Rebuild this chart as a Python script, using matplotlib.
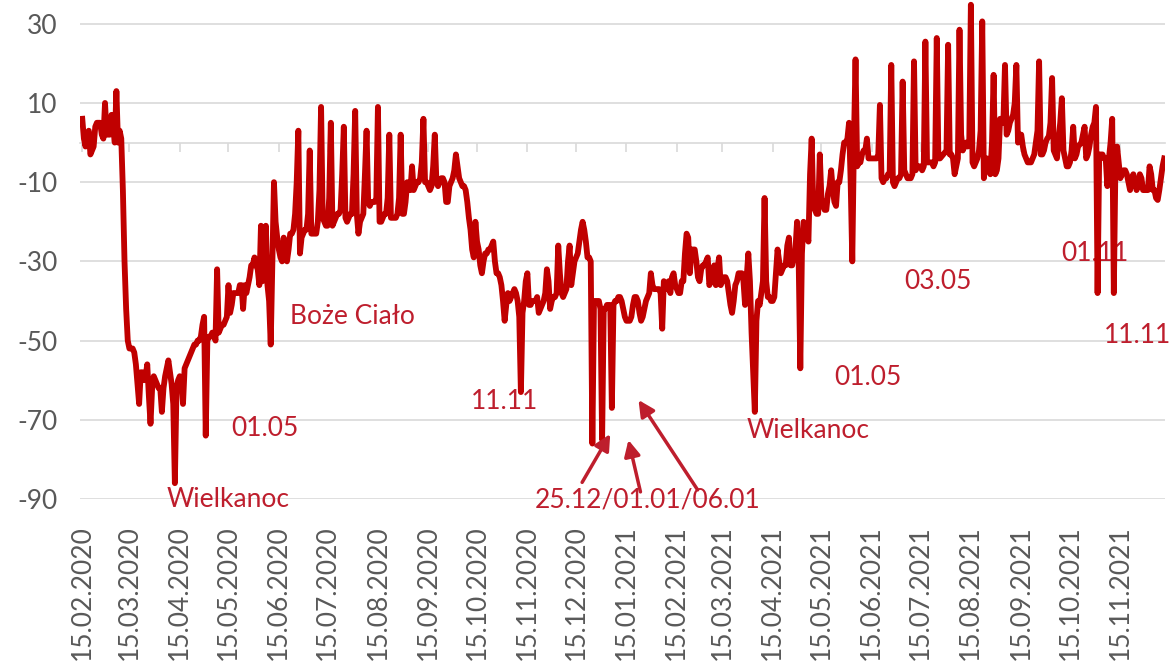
import numpy as np
import pandas as pd
import matplotlib
matplotlib.use('Agg')
import matplotlib.pyplot as plt

plt.rcParams['font.family'] = ['Lato', 'DejaVu Sans']
plt.rcParams['axes.unicode_minus'] = False

start = pd.Timestamp('2020-02-15')

# wartosci dzienne, tygodniami (sobota-piatek)
weeks_2020_spring = [
    [6, 1, -1, 2, 3, -3, -2], [-1, 4, 5, 5, 5, 2, 1], [10, 2, 2, 2, 7, 4, 0],
    [13, 0, 3, 1, -12, -30, -42], [-50, -52, -52, -52, -53, -56, -61],
    [-66, -58, -58, -60, -59, -56, -64], [-71, -62, -59, -60, -61, -62, -62],
    [-68, -62, -59, -57, -55, -58, -61], [-66, -86, -62, -60, -59, -60, -66],
    [-57, -56, -55, -54, -53, -52, -51], [-51, -50, -50, -49, -46, -44, -74],
    [-50, -49, -49, -48, -48, -50, -32], [-48, -47, -46, -46, -45, -44, -36],
    [-43, -41, -38, -38, -38, -38, -36], [-36, -42, -36, -38, -36, -34, -31],
    [-31, -29, -31, -32, -36, -21, -35],
]
weeks_2020_summer = [
    [-30, -21, -36, -40, -51, -30, -10], [-20, -24, -27, -29, -30, -24, -27],
    [-30, -27, -23, -23, -22, -18, -10], [3, -28, -24, -23, -22, -22, -18],
    [-2, -23, -23, -23, -23, -20, -12], [9, -19, -20, -21, -21, -14, 5],
    [-21, -20, -19, -18, -18, -17, -8], [4, -19, -20, -19, -18, -18, -8],
    [8, -18, -23, -20, -19, -18, -8], [3, -15, -16, -15, -15, -15, -14],
    [9, -20, -20, -19, -18, -18, -14], [2, -19, -19, -19, -19, -18, -14],
    [2, -18, -18, -15, -10, -12, -12], [-6, -12, -11, -10, -10, -9, -5],
    [6, -10, -10, -11, -12, -11, -6], [2, -10, -11, -10, -9, -9, -10],
    [-15, -15, -11, -10, -9, -7, -3], [-6, -9, -10, -11, -11, -12, -15],
]
weeks_2020_autumn = [
    [-19, -22, -27, -29, -20, -25, -27], [-31, -33, -30, -28, -28, -27, -27],
    [-26, -25, -30, -33, -33, -34, -36], [-40, -45, -41, -38, -40, -39, -38],
    [-37, -38, -40, -44, -63, -43, -40], [-35, -33, -41, -41, -40, -40, -40],
    [-39, -43, -42, -41, -40, -38, -32], [-35, -42, -40, -39, -39, -38, -26],
    [-33, -38, -39, -38, -37, -30, -26], [-36, -33, -30, -29, -28, -25, -22],
    [-20, -22, -25, -29, -29, -30, -76], [-40, -40, -40, -40, -42, -75, -42],
]
weeks_2021_spring = [
    [-42, -41, -41, -41, -67, -41, -40], [-40, -39, -39, -40, -42, -44, -45],
    [-45, -45, -44, -41, -39, -39, -40], [-43, -45, -44, -42, -40, -39, -38],
    [-33, -36, -37, -37, -37, -37, -38], [-47, -35, -37, -36, -35, -38, -34],
    [-33, -36, -37, -38, -38, -35, -35], [-28, -23, -24, -33, -27, -27, -27],
    [-30, -34, -35, -32, -31, -31, -30], [-29, -36, -35, -33, -31, -36, -32],
    [-29, -36, -35, -34, -34, -35, -38], [-41, -43, -40, -36, -35, -33, -33],
    [-33, -35, -41, -34, -28, -35, -48], [-58, -68, -45, -40, -41, -38, -35],
    [-14, -35, -39, -39, -40, -40, -39], [-33, -27, -30, -33, -32, -31, -31],
    [-26, -24, -31, -31, -29, -27, -20], [-30, -57, -28, -20, -21, -23, -25],
    [-8, 1, -16, -17, -18, -18, -3], [-14, -16, -17, -17, -13, -11, -7],
    [-12, -15, -16, -10, -10, -7, -3], [0, 0, 1, 5, -10, -30, 0],
]
weeks_2021_summer = [
    [21, -6, -5, -5, -3, -2, -2], [1, -4, -4, -4, -4, -4, -4],
    [-3, 9.5, -9, -10, -9, -9, -8], [-8, 19.6, -10, -11, -10, -9, -9],
    [-8, 15.4, -7, -8, -9, -9, -9], [-8, 20.5, -7, -6, -6, -6, -7],
    [-6, 25.5, -5, -5, -5, -5, -6], [-5, 26.4, -4, -4, -3.5, -3, -2.5],
    [-2, 24.7, -3, -3, -4, -8, -6], [-4, 28.5, 2, -2, -1, 0, -1],
    [0, 34.8, -5, -6, -5, -4, -2], [3, 30.6, -9, -5, -4, -7, -8],
    [0, 17.1, -8, -7, -4, 6, 6], [5, 19.6, 2, 3, 5, 6, 7],
    [10, 19.6, 0, 2, 2, -1, -3], [-4, -5, -5, -5, -4, -3, 0],
]
weeks_2021_autumn = [
    [3, 20.5, -3, -3, -2, 0, 1], [1.6, 5, 16.3, -2, -3, -4, 1],
    [5, 11.2, -2, -4, -6, -6, -5], [-2, 4, -4, -3, -1, -0.5, 0],
    [2, 4, -4, -3, -1, 2, 4], [5, 9, -38, -3, -3, -3, -4],
    [-4, -11, -4, 0, 6, -38, -5], [-1, -5, -9, -8, -7, -7, -8],
    [-10, -12, -9, -8, -10, -12, -11], [-8, -9, -12, -12, -12, -12, -6],
    [-8, -12, -12, -14, -14.5, -12, -9], [-6, -4],
]

all_weeks = (weeks_2020_spring + weeks_2020_summer + weeks_2020_autumn
             + weeks_2021_spring + weeks_2021_summer + weeks_2021_autumn)
values = [v for w in all_weeks for v in w]
days = np.arange(len(values))

tick_dates = pd.date_range('2020-02-15', '2021-11-15', freq=pd.DateOffset(months=1))
tick_pos = (tick_dates - start).days
tick_labels = [t.strftime('%d.%m.%Y') for t in tick_dates]

# opisy swiat: (tekst, dzien od 15.02.2020, wartosc)
notes = [
    ('Wielkanoc', 89.6, -90.0),
    ('01.05', 112.1, -72.1),
    ('Boże Ciało', 166.5, -44.0),
    ('11.11', 260.0, -65.5),
    ('25.12/01.01/06.01', 347.9, -90.3),
    ('Wielkanoc', 446.9, -72.6),
    ('01.05', 483.8, -59.2),
    ('03.05', 527.0, -35.2),
    ('01.11', 623.4, -27.9),
    ('11.11', 649.3, -48.6),
]
# strzalki: (dzien ogona, wartosc ogona, dzien grotu, wartosc grotu)
arrows = [
    (307.7, -85.8, 325.0, -73.6),
    (343.6, -88.2, 336.2, -75.1),
    (378.8, -87.7, 342.4, -65.0),
]

red = '#C00000'
note_red = '#BE1E2D'
grey = '#595959'
grid_c = '#D9D9D9'

fig = plt.figure(figsize=(11.73, 6.66), dpi=100)
ax = fig.add_axes([80 / 1173, 167 / 666, 1085 / 1173, 499 / 666])

ax.plot(days, values, color=red, lw=4.2, solid_joinstyle='round', zorder=3)

ax.set_xlim(-1.4, 666.5)
ax.set_ylim(-90, 36)
ax.set_yticks(np.arange(-90, 31, 20))
ax.grid(axis='y', color=grid_c, lw=1.2)
ax.set_axisbelow(True)

for s in ['top', 'right', 'left']:
    ax.spines[s].set_visible(False)
ax.spines['bottom'].set_position(('data', 0))
ax.spines['bottom'].set_color(grid_c)
ax.spines['bottom'].set_linewidth(1.2)

ax.set_xticks(tick_pos)
ax.tick_params(axis='x', direction='out', length=6.5, width=1.2, color=grid_c, labelbottom=False)
ax.tick_params(axis='y', length=0, pad=16, labelsize=19, labelcolor=grey)

sec = ax.secondary_xaxis('bottom')
sec.set_xticks(tick_pos, labels=tick_labels)
sec.tick_params(length=0, pad=19, labelsize=19, labelcolor=grey, labelrotation=90)
sec.spines['bottom'].set_visible(False)

for txt, d, v in notes:
    ax.text(d, v, txt, color=note_red, fontsize=19, ha='center', va='center', zorder=2)

for d0, v0, d1, v1 in arrows:
    ax.annotate('', xy=(d1, v1), xytext=(d0, v0), annotation_clip=False,
                arrowprops=dict(arrowstyle='-|>', color=note_red, lw=2.5,
                                mutation_scale=24, shrinkA=0, shrinkB=0))

fig.savefig('out.png', dpi=100)
